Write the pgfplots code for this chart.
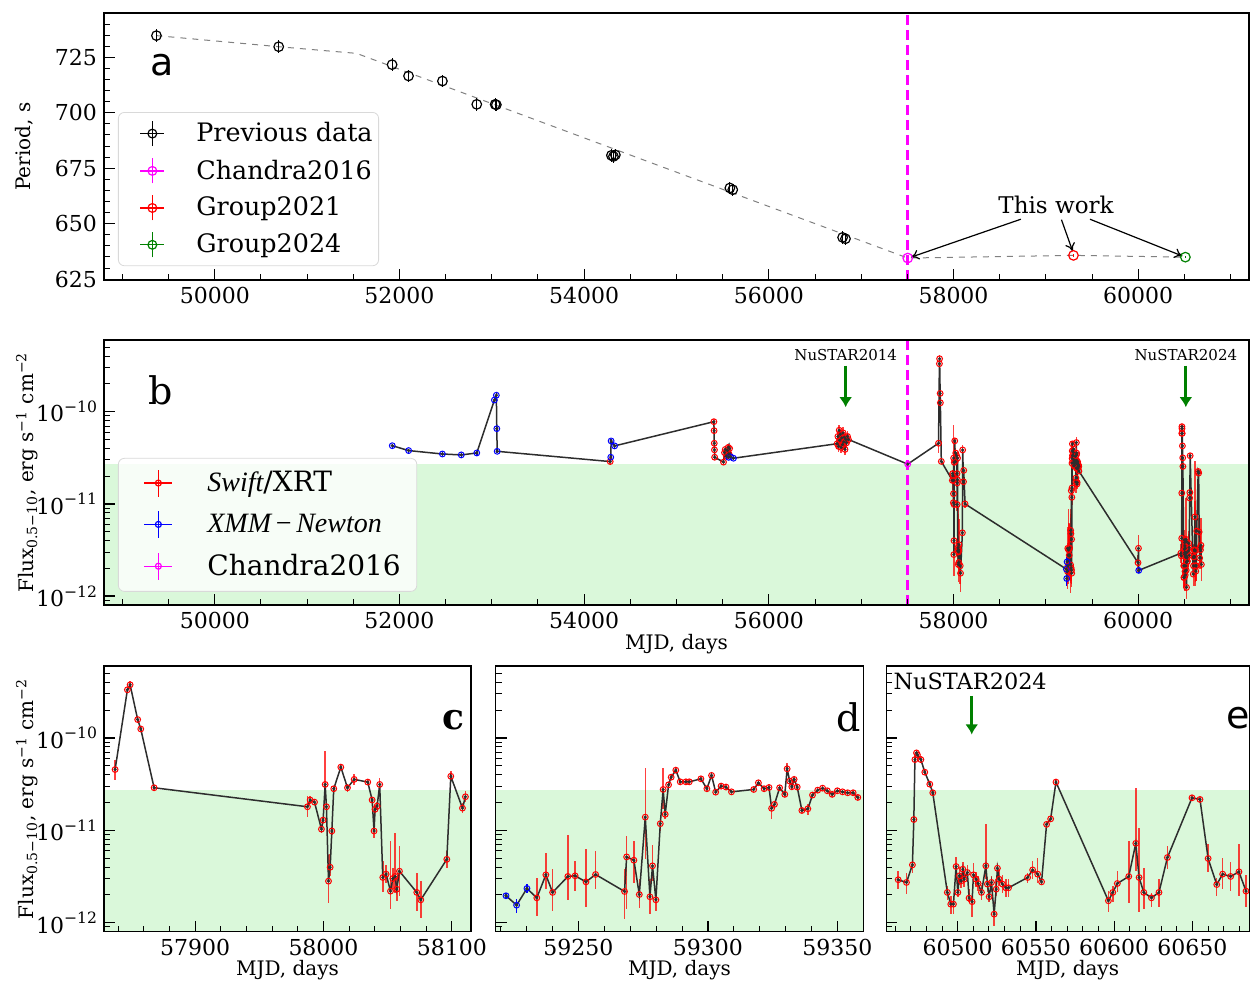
\documentclass[border=0pt]{standalone}
\usepackage{fontspec}
\setmainfont{DejaVu Serif}
\newfontfamily\dsans{DejaVu Sans}
\newfontfamily\tnr{Liberation Serif}
\usepackage{pgfplots}
\pgfplotsset{compat=1.18}
\usepackage{pgfplotstable}
\usetikzlibrary{arrows.meta}
\definecolor{band}{RGB}{218,248,218}
\definecolor{linec}{RGB}{45,45,45}
\definecolor{mgreen}{RGB}{0,128,0}
\definecolor{trend}{RGB}{128,128,128}
\definecolor{mag}{RGB}{255,0,255}
\definecolor{pred}{RGB}{255,0,0}
\definecolor{pblue}{RGB}{0,0,255}
\newcommand{\sups}[1]{\raisebox{0.42em}{\fontsize{7.8}{9}\selectfont #1}}
% color, half vertical, half horizontal, radius, left extent
\newcommand{\legx}[5]{\addlegendimage{legend image code/.code={%
    \path[draw=none, fill=none] (-#5,-#2) rectangle (#3+1pt,#2);
    \draw[#1, line width=0.6pt, fill=none] (0pt,-#2)--(0pt,#2) (-#3,0pt)--(#3,0pt);
    \draw[#1, line width=0.6pt, fill=none] (0pt,0pt) circle (#4);}}}

\pgfplotstableread{
x y e
49368 734.8 2.8
50692 729.8 2.8
51920 721.7 2.8
52098 716.6 2.8
52465 714.3 2.8
52837 703.8 2.8
53036 703.8 2.8
53049 703.6 2.8
54295 680.8 2.8
54317 680.3 2.8
54338 681.0 2.8
55578 666.1 2.8
55609 665.3 2.8
56799 643.8 2.8
56830 643.2 2.8
}\prevtab

\pgfplotstableread{
x y ep em c
51922 4.28e-11 0.05 0.05 1
52099 3.79e-11 0.05 0.05 1
52465 3.48e-11 0.05 0.05 1
52669 3.40e-11 0.05 0.05 1
52837 3.57e-11 0.05 0.05 1
53028 1.34e-10 0.05 0.05 1
53049 1.51e-10 0.05 0.05 1
53054 6.55e-11 0.05 0.05 1
53058 3.72e-11 0.05 0.05 1
54282 2.88e-11 0.06 0.06 0
54288 3.21e-11 0.05 0.05 1
54292 4.82e-11 0.05 0.05 1
54330 4.26e-11 0.05 0.05 1
55405 7.8e-11 0.06 0.06 0
55407 6.23e-11 0.06 0.06 0
55409 4.55e-11 0.06 0.06 0
55411 3.86e-11 0.06 0.06 0
55413 3.21e-11 0.06 0.06 0
55509 2.84e-11 0.08 0.08 0
55520 3.6e-11 0.1 0.1 0
55528 3.9e-11 0.1 0.1 0
55540 3.3e-11 0.1 0.1 0
55550 3.8e-11 0.1 0.1 0
55560 4.1e-11 0.1 0.1 0
55565 3.2e-11 0.05 0.05 1
55568 3.5e-11 0.1 0.1 0
55575 4.0e-11 0.1 0.1 0
55585 3.25e-11 0.05 0.05 1
55617 3.13e-11 0.05 0.05 1
56740 4.5e-11 0.15 0.13 0
56748 5.4e-11 0.15 0.13 0
56755 4.2e-11 0.15 0.13 0
56762 6.3e-11 0.15 0.13 0
56770 4.9e-11 0.15 0.13 0
56776 5.7e-11 0.15 0.13 0
56783 4.1e-11 0.15 0.13 0
56790 5.2e-11 0.15 0.13 0
56797 4.4e-11 0.15 0.13 0
56804 5.9e-11 0.15 0.13 0
56811 4.7e-11 0.15 0.13 0
56818 5.3e-11 0.15 0.13 0
56825 3.9e-11 0.15 0.13 0
56833 5.0e-11 0.15 0.13 0
56842 4.6e-11 0.15 0.13 0
56852 5.4e-11 0.15 0.13 0
56862 5.0e-11 0.15 0.13 0
57504 2.7e-11 0.04 0.04 2
57837.6 4.55e-11 0.28 0.22 0
57847.2 3.32e-10 0.08 0.07 0
57849.3 3.76e-10 0.09 0.08 0
57855.2 1.58e-10 0.08 0.07 0
57857.6 1.25e-10 0.08 0.07 0
57868.0 2.89e-11 0.08 0.07 0
57987.5 1.80e-11 0.30 0.22 0
57989.6 2.13e-11 0.10 0.09 0
57993.0 2.02e-11 0.08 0.07 0
57998.4 1.03e-11 0.10 0.09 0
57999.7 1.29e-11 0.08 0.07 0
58001.3 3.14e-11 1.29 0.20 0
58002.3 1.80e-11 0.10 0.09 0
58003.9 2.82e-12 0.91 0.42 0
58005.2 3.99e-12 0.38 0.19 0
58006.5 9.84e-12 0.10 0.09 0
58008.0 2.82e-11 0.08 0.07 0
58013.5 4.83e-11 0.08 0.07 0
58018.7 2.89e-11 0.10 0.09 0
58023.9 3.56e-11 0.13 0.14 0
58034.5 3.33e-11 0.08 0.07 0
58037.9 2.13e-11 0.08 0.07 0
58039.4 9.84e-12 0.13 0.15 0
58040.2 1.69e-11 0.10 0.09 0
58041.8 1.83e-11 0.10 0.09 0
58043.8 3.14e-11 0.18 0.15 0
58046.2 3.09e-12 0.51 0.31 0
58048.8 3.36e-12 0.26 0.20 0
58052.2 2.20e-12 2.49 0.36 0
58054.0 3.01e-12 0.31 0.23 0
58055.8 3.17e-12 1.98 0.33 0
58057.1 2.31e-12 0.39 0.25 0
58059.2 3.61e-12 0.88 0.46 0
58072.7 2.13e-12 0.64 0.37 0
58075.8 1.77e-12 0.60 0.37 0
58096.1 4.86e-12 0.23 0.19 0
58099.2 3.85e-11 0.13 0.12 0
58108.3 1.74e-11 0.14 0.12 0
58110.6 2.31e-11 0.14 0.12 0
58125 1.0e-11 0.10 0.10 0
59222.0 1.96e-12 0.06 0.06 1
59226.1 1.55e-12 0.16 0.17 1
59230.1 2.35e-12 0.12 0.10 1
59233.9 1.86e-12 0.62 0.36 0
59237.4 3.30e-12 0.71 0.30 0
59240.0 2.13e-12 0.79 0.37 0
59245.9 3.17e-12 1.79 0.44 0
59248.7 3.22e-12 0.45 0.31 0
59252.9 2.77e-12 1.25 0.46 0
59256.6 3.33e-12 0.80 0.31 0
59267.8 2.18e-12 0.74 0.50 0
59268.6 5.16e-12 0.69 0.73 0
59271.4 4.75e-12 0.62 0.43 0
59273.5 2.02e-12 0.46 0.28 0
59275.8 1.39e-11 2.41 0.65 0
59277.6 1.91e-12 0.55 0.35 0
59278.6 4.13e-12 0.67 0.31 0
59279.9 1.77e-12 0.30 0.24 0
59281.6 1.18e-11 0.11 0.17 0
59282.7 2.77e-11 0.71 0.39 0
59283.5 1.49e-11 0.13 0.12 0
59284.8 3.11e-11 0.08 0.07 0
59285.8 3.76e-11 0.08 0.07 0
59287.6 4.48e-11 0.08 0.07 0
59289.3 3.35e-11 0.06 0.06 0
59291.5 3.35e-11 0.06 0.06 0
59292.8 3.35e-11 0.06 0.06 0
59297.3 3.61e-11 0.06 0.06 0
59299.6 2.82e-11 0.08 0.07 0
59301.4 3.93e-11 0.08 0.07 0
59303.0 2.59e-11 0.06 0.06 0
59305.1 3.01e-11 0.06 0.06 0
59307.0 2.94e-11 0.06 0.06 0
59309.1 2.61e-11 0.06 0.06 0
59317.7 2.77e-11 0.08 0.07 0
59319.5 3.27e-11 0.06 0.06 0
59321.7 2.82e-11 0.06 0.06 0
59323.6 2.91e-11 0.06 0.06 0
59324.6 1.73e-11 0.14 0.24 0
59325.7 1.91e-11 0.10 0.09 0
59327.7 2.89e-11 0.06 0.06 0
59329.7 2.45e-11 0.06 0.06 0
59330.6 4.63e-11 0.16 0.14 0
59331.6 3.41e-11 0.06 0.06 0
59332.4 2.96e-11 0.06 0.06 0
59333.3 3.56e-11 0.06 0.06 0
59334.5 2.94e-11 0.06 0.06 0
59336.3 1.64e-11 0.06 0.06 0
59338.6 1.71e-11 0.12 0.15 0
59340.4 2.41e-11 0.06 0.06 0
59342.4 2.72e-11 0.06 0.06 0
59344.3 2.86e-11 0.06 0.06 0
59346.1 2.68e-11 0.06 0.06 0
59348.0 2.45e-11 0.06 0.06 0
59350.0 2.68e-11 0.06 0.06 0
59352.0 2.61e-11 0.06 0.06 0
59354.0 2.55e-11 0.06 0.06 0
59356.1 2.55e-11 0.06 0.06 0
59357.9 2.27e-11 0.06 0.06 0
59998 2.3e-12 0.20 0.20 0
60003 3.3e-12 0.39 0.31 0
60006 1.9e-12 0.06 0.06 1
60462.0 2.92e-12 0.25 0.21 0
60467.3 2.73e-12 0.26 0.25 0
60471.1 4.23e-12 0.15 0.19 0
60472.0 1.31e-11 0.08 0.07 0
60472.7 5.83e-11 0.08 0.07 0
60473.7 6.89e-11 0.08 0.07 0
60474.3 6.56e-11 0.08 0.07 0
60476.5 5.83e-11 0.08 0.07 0
60479.0 4.26e-11 0.08 0.07 0
60482.2 3.16e-11 0.08 0.07 0
60484.1 2.55e-11 0.08 0.07 0
60493.4 2.13e-12 0.18 0.17 0
60495.6 1.59e-12 0.23 0.22 0
60497.3 1.59e-12 0.23 0.22 0
60499.0 4.06e-12 0.28 0.20 0
60500.1 2.13e-12 0.12 0.10 0
60501.1 3.22e-12 0.26 0.20 0
60502.2 2.84e-12 0.20 0.17 0
60503.3 3.80e-12 0.20 0.17 0
60504.1 2.96e-12 0.20 0.17 0
60506.2 3.50e-12 0.20 0.17 0
60507.3 1.85e-12 0.26 0.10 0
60509.2 1.69e-12 0.16 0.32 0
60510.1 3.30e-12 0.36 0.10 0
60511.8 2.96e-12 0.20 0.17 0
60513.1 2.66e-12 0.20 0.17 0
60515.2 2.13e-12 0.20 0.17 0
60518.0 4.13e-12 1.82 0.28 0
60519.0 2.62e-12 0.20 0.17 0
60520.1 1.91e-12 0.16 0.12 0
60521.6 2.73e-12 0.18 0.22 0
60523.3 1.24e-12 0.34 0.25 0
60524.6 2.31e-12 0.28 0.15 0
60525.4 3.89e-12 0.15 0.24 0
60526.5 2.96e-12 0.28 0.15 0
60528.6 2.62e-12 0.26 0.20 0
60530.8 2.39e-12 0.26 0.20 0
60532.5 2.39e-12 0.26 0.20 0
60544.7 3.09e-12 0.13 0.12 0
60547.9 3.73e-12 0.25 0.20 0
60551.1 3.36e-12 0.51 0.19 0
60553.6 2.77e-12 0.08 0.07 0
60556.8 1.16e-11 0.08 0.07 0
60559.4 1.33e-11 0.08 0.07 0
60562.8 3.33e-11 0.08 0.07 0
60596.3 1.73e-12 0.28 0.25 0
60599.1 2.13e-12 0.18 0.22 0
60602.0 2.66e-12 0.37 0.20 0
60609.3 3.17e-12 1.43 0.48 0
60613.8 7.24e-12 3.00 0.50 0
60615.9 3.09e-12 2.46 0.58 0
60618.9 2.13e-12 0.86 0.34 0
60623.8 1.86e-12 0.14 0.21 0
60628.6 2.13e-12 0.39 0.31 0
60634.0 5.08e-12 0.34 0.25 0
60649.7 2.25e-11 0.06 0.06 0
60654.8 2.16e-11 0.06 0.06 0
60660.0 4.96e-12 0.43 0.29 0
60665.5 2.59e-12 0.18 0.24 0
60669.3 3.36e-12 0.51 0.31 0
60674.4 3.17e-12 0.42 0.30 0
60679.7 3.56e-12 0.99 0.45 0
60684.2 2.20e-12 0.51 0.33 0
}\lctab

\pgfplotsset{
  myBase/.style={
    scale only axis, axis on top, clip=true,
    tick align=inside, tick pos=left,
    major tick length=5.5pt, minor tick length=3pt,
    tick style={black, line width=0.6pt},
    minor tick style={line width=0.5pt},
    axis line style={line width=0.6pt},
    tick label style={font=\fontsize{11}{13}\selectfont},
    label style={font=\fontsize{11}{13}\selectfont},
    scaled ticks=false,
    /pgf/number format/assume math mode=true,
    /pgf/number format/1000 sep={},
    every axis x label/.style={at={(rel axis cs:0.5,0)}, anchor=center, yshift=-19.5pt},
  },
  mySwift/.style={only marks, mark=o, mark size=1.45pt, pred, mark options={pred, line width=0.5pt, solid}, forget plot,
    restrict expr to domain={\thisrow{c}}{-0.5:0.5},
    error bars/y dir=both, error bars/y explicit relative, error bars/error mark=none,
    error bars/error bar style={pred, opacity=0.75, line width=0.75pt}},
  myXmm/.style={only marks, mark=o, mark size=1.45pt, pblue, mark options={pblue, line width=0.5pt, solid}, forget plot,
    restrict expr to domain={\thisrow{c}}{0.5:1.5},
    error bars/y dir=both, error bars/y explicit relative, error bars/error mark=none,
    error bars/error bar style={pblue, line width=0.75pt}},
  myChan/.style={only marks, mark=o, mark size=1.45pt, mag, mark options={mag, line width=0.5pt, solid}, forget plot,
    restrict expr to domain={\thisrow{c}}{1.5:2.5}},
  myLine/.style={color=linec, line width=0.75pt, mark=*, mark size=0.35pt, mark options={solid}, forget plot},
  myPer/.style={only marks, mark=o, mark size=2.4pt, line width=0.6pt, forget plot,
    error bars/y dir=both, error bars/y explicit, error bars/error mark=none},
}

\begin{document}
\begin{tikzpicture}
\path[use as bounding box] (0,0) rectangle (625pt,491pt);

% ---------------- panel a
\begin{axis}[myBase, at={(52pt,351pt)}, anchor=south west, width=572.5pt, height=133.5pt,
  xmin=48800, xmax=61200,
  xtick={50000,52000,54000,56000,58000,60000},
  minor xtick={49000,49500,50500,51000,51500,52500,53000,53500,54500,55000,55500,56500,57000,57500,58500,59000,59500,60500,61000},
  ymin=624.6, ymax=745,
  ytick={625,650,675,700,725},
  minor ytick={630,635,640,645,655,660,665,670,680,685,690,695,705,710,715,720,730,735,740},
  ylabel={Period, s},
  every axis y label/.style={at={(rel axis cs:-0.0698,0.5)}, rotate=90, anchor=center},
  legend cell align=left,
  legend style={at={(0.0122,0.629)}, anchor=north west, font=\fontsize{12.7}{15}\selectfont,
    draw=black!15, fill=white, fill opacity=0.8, text opacity=1, rounded corners=3pt,
    inner xsep=1pt, inner ysep=3pt, row sep=3.5pt, column sep=13pt}]
\addplot[trend, dashed, line width=0.5pt, forget plot] coordinates {(49368,734.8) (50692,729.8) (51535,726.8) (57504,634.5) (59299,635.7) (60511,634.9)};
\draw[mag, line width=1.5pt, dash pattern=on 5pt off 2.5pt] (axis cs:57504,624.6) -- (axis cs:57504,745);
\addplot[myPer, black] table[x=x,y=y,y error=e]{\prevtab};
\addplot[myPer, mag] coordinates {(57504,634.5) +- (0,0.8)};
\addplot[myPer, pred] coordinates {(59299,635.7) +- (0,0.8)};
\addplot[myPer, mgreen] coordinates {(60511,634.9) +- (0,0.6)};
\legx{black}{6.25pt}{6pt}{2.2pt}{16pt}\addlegendentry{Previous data}
\legx{mag}{6.25pt}{6pt}{2.2pt}{16pt}\addlegendentry{Chandra2016}
\legx{pred}{6.25pt}{6pt}{2.2pt}{16pt}\addlegendentry{Group2021}
\legx{mgreen}{6.25pt}{6pt}{2.2pt}{16pt}\addlegendentry{Group2024}
\node[font=\fontsize{11.5}{13}\selectfont] at (axis cs:59110,658.5) {This work};
\draw[-{To[length=4pt,width=5pt]}, line width=0.6pt] (axis cs:58729,652) -- (axis cs:57540,634.9);
\draw[-{To[length=4pt,width=5pt]}, line width=0.6pt] (axis cs:59169,651.8) -- (axis cs:59290,637.6);
\draw[-{To[length=4pt,width=5pt]}, line width=0.6pt] (axis cs:59478,652) -- (axis cs:60479,635.4);
\end{axis}

% ---------------- panel b
\begin{axis}[myBase, at={(52pt,188.5pt)}, anchor=south west, width=572.5pt, height=132.5pt,
  xmin=48800, xmax=61200,
  xtick={50000,52000,54000,56000,58000,60000},
  minor xtick={49000,49500,50500,51000,51500,52500,53000,53500,54500,55000,55500,56500,57000,57500,58500,59000,59500,60500,61000},
  ymode=log, ymin=8e-13, ymax=6e-10, ytick={1e-12,1e-11,1e-10},
  minor ytick={9e-13,2e-12,3e-12,4e-12,5e-12,6e-12,7e-12,8e-12,9e-12,2e-11,3e-11,4e-11,5e-11,6e-11,7e-11,8e-11,9e-11,2e-10,3e-10,4e-10,5e-10},
  yticklabels={10\sups{−12},10\sups{−11},10\sups{−10}},
  xlabel={MJD, days},
  ylabel={Flux\textsubscript{0.5−10}, erg s\textsuperscript{−1} cm\textsuperscript{−2}},
  every axis y label/.style={at={(rel axis cs:-0.0672,0.5)}, rotate=90, anchor=center},
  legend cell align=left,
  legend style={at={(0.0122,0.555)}, anchor=north west, font=\fontsize{14}{16}\selectfont,
    draw=black!15, fill=white, fill opacity=0.8, text opacity=1, rounded corners=3pt,
    inner xsep=6pt, inner ysep=4.5pt, row sep=5.5pt, column sep=14.5pt}]
\fill[band] (axis cs:40000,1e-13) rectangle (axis cs:70000,2.7e-11);
\addplot[mySwift] table[x=x,y=y,y error plus=ep,y error minus=em]{\lctab};
\addplot[myXmm] table[x=x,y=y,y error plus=ep,y error minus=em]{\lctab};
\addplot[myChan] table[x=x,y=y]{\lctab};
\addplot[myLine] table[x=x,y=y]{\lctab};
\draw[mag, line width=1.5pt, dash pattern=on 5pt off 2.5pt] (axis cs:57504,8e-13) -- (axis cs:57504,6e-10);
\legx{pred}{6.75pt}{7pt}{1.5pt}{14pt}\addlegendentry{{\tnr\itshape Swift}/XRT}
\legx{pblue}{6.75pt}{7pt}{1.5pt}{14pt}\addlegendentry{{\tnr\itshape XMM}\,{\tnr −}\,{\tnr\itshape Newton}}
\legx{mag}{6.75pt}{7pt}{1.5pt}{14pt}\addlegendentry{Chandra2016}
\node[font=\fontsize{7.5}{9}\selectfont] at (axis cs:56832,4.1e-10) {NuSTAR2014};
\draw[-{Latex[length=5pt,width=6.5pt]}, line width=1.5pt, mgreen] (axis cs:56832,3.17e-10) -- (axis cs:56832,1.12e-10);
\node[font=\fontsize{7.5}{9}\selectfont] at (axis cs:60516,4.1e-10) {NuSTAR2024};
\draw[-{Latex[length=5pt,width=6.5pt]}, line width=1.5pt, mgreen] (axis cs:60516,3.17e-10) -- (axis cs:60516,1.12e-10);
\end{axis}

% ---------------- panel c
\begin{axis}[myBase, at={(52pt,25.15pt)}, anchor=south west, width=183.5pt, height=132.85pt,
  every axis x label/.style={at={(rel axis cs:0.5,0)}, anchor=center, yshift=-19pt},
  ymode=log, ymin=8e-13, ymax=6e-10, ytick={1e-12,1e-11,1e-10},
  minor ytick={9e-13,2e-12,3e-12,4e-12,5e-12,6e-12,7e-12,8e-12,9e-12,2e-11,3e-11,4e-11,5e-11,6e-11,7e-11,8e-11,9e-11,2e-10,3e-10,4e-10,5e-10},
  yticklabels={10\sups{−12},10\sups{−11},10\sups{−10}},
  xmin=57829, xmax=58115, xtick={57900,58000,58100},
  minor xtick={57840,57860,57880,57920,57940,57960,57980,58020,58040,58060,58080},
  xlabel={MJD, days},
  ylabel={Flux\textsubscript{0.5−10}, erg s\textsuperscript{−1} cm\textsuperscript{−2}},
  every axis y label/.style={at={(rel axis cs:-0.2098,0.5)}, rotate=90, anchor=center}]
\fill[band] (axis cs:57000,1e-13) rectangle (axis cs:59000,2.7e-11);
\addplot[mySwift] table[x=x,y=y,y error plus=ep,y error minus=em]{\lctab};
\addplot[myLine, restrict x to domain=57820:58116] table[x=x,y=y]{\lctab};
\end{axis}

% ---------------- panel d
\begin{axis}[myBase, at={(247.7pt,25.15pt)}, anchor=south west, width=183.8pt, height=132.85pt,
  every axis x label/.style={at={(rel axis cs:0.5,0)}, anchor=center, yshift=-19pt},
  ymode=log, ymin=8e-13, ymax=6e-10, ytick={1e-12,1e-11,1e-10},
  minor ytick={9e-13,2e-12,3e-12,4e-12,5e-12,6e-12,7e-12,8e-12,9e-12,2e-11,3e-11,4e-11,5e-11,6e-11,7e-11,8e-11,9e-11,2e-10,3e-10,4e-10,5e-10},
  yticklabels={},
  xmin=59218, xmax=59360, xtick={59250,59300,59350},
  minor xtick={59220,59230,59240,59260,59270,59280,59290,59310,59320,59330,59340},
  xlabel={MJD, days}]
\fill[band] (axis cs:59000,1e-13) rectangle (axis cs:59500,2.7e-11);
\addplot[mySwift] table[x=x,y=y,y error plus=ep,y error minus=em]{\lctab};
\addplot[myXmm] table[x=x,y=y,y error plus=ep,y error minus=em]{\lctab};
\addplot[myLine, restrict x to domain=59215:59362] table[x=x,y=y]{\lctab};
\end{axis}

% ---------------- panel e
\begin{axis}[myBase, at={(443pt,25.15pt)}, anchor=south west, width=181.5pt, height=132.85pt,
  every axis x label/.style={at={(rel axis cs:0.5,0)}, anchor=center, yshift=-19pt},
  ymode=log, ymin=8e-13, ymax=6e-10, ytick={1e-12,1e-11,1e-10},
  minor ytick={9e-13,2e-12,3e-12,4e-12,5e-12,6e-12,7e-12,8e-12,9e-12,2e-11,3e-11,4e-11,5e-11,6e-11,7e-11,8e-11,9e-11,2e-10,3e-10,4e-10,5e-10},
  yticklabels={},
  xmin=60454.3, xmax=60686.2, xtick={60500,60550,60600,60650},
  minor xtick={60460,60470,60480,60490,60510,60520,60530,60540,60560,60570,60580,60590,60610,60620,60630,60640,60660,60670,60680},
  xlabel={MJD, days}]
\fill[band] (axis cs:60300,1e-13) rectangle (axis cs:60800,2.7e-11);
\addplot[mySwift] table[x=x,y=y,y error plus=ep,y error minus=em]{\lctab};
\addplot[myLine, restrict x to domain=60450:60690] table[x=x,y=y]{\lctab};
\node[font=\fontsize{11.2}{13}\selectfont] at (axis cs:60508,4.08e-10) {NuSTAR2024};
\draw[-{Latex[length=5pt,width=6.5pt]}, line width=1.5pt, mgreen] (axis cs:60509,2.86e-10) -- (axis cs:60509,1.09e-10);
\end{axis}

% panel letters
\node[font=\dsans\fontsize{19}{20}\selectfont] at (81pt,458.5pt) {a};
\node[font=\fontsize{19}{20}\selectfont] at (80.5pt,296pt) {b};
\node[font=\bfseries\fontsize{18}{20}\selectfont] at (226.5pt,131pt) {c};
\node[font=\fontsize{19}{20}\selectfont] at (424.5pt,132.5pt) {d};
\node[font=\dsans\fontsize{19}{20}\selectfont] at (619pt,132pt) {e};
\end{tikzpicture}
\end{document}
